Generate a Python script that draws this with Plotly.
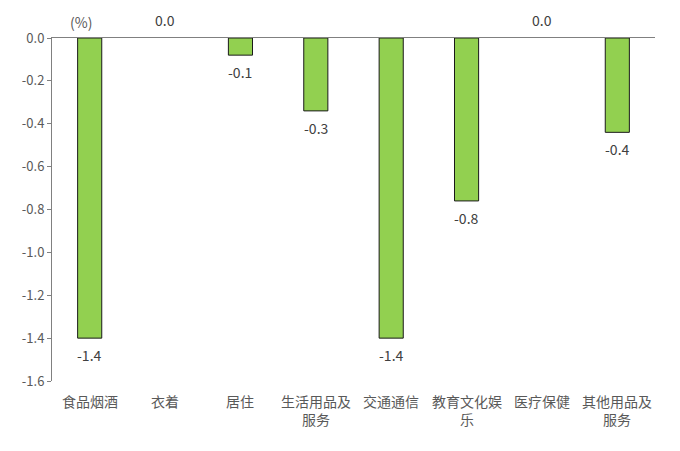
import plotly.graph_objects as go

# Данные
categories = ["食品烟酒", "衣着", "居住", "生活用品及服务", "交通通信", "教育文化娱乐", "医疗保健", "其他用品及服务"]
axis_labels = ["食品烟酒", "衣着", "居住", "生活用品及<br>服务", "交通通信", "教育文化娱<br>乐", "医疗保健", "其他用品及<br>服务"]
values = [-1.40, 0.0, -0.08, -0.34, -1.40, -0.76, 0.0, -0.44]
y_tickvals = [0.0, -0.2, -0.4, -0.6, -0.8, -1.0, -1.2, -1.4, -1.6]
y_ticktext = ["0.0", "-0.2", "-0.4", "-0.6", "-0.8", "-1.0", "-1.2", "-1.4", "-1.6"]

FONT = "Noto Sans CJK SC"
GRAY = "#595959"

fig = go.Figure()

fig.add_trace(go.Bar(
    x=categories,
    y=values,
    marker=dict(color="#92D050",
                line=dict(color="#1a1a1a", width=[0 if v == 0 else 1 for v in values])),
    hoverinfo="skip",
))

# подписи значений
for cat, v in zip(categories, values):
    label = f"{v:.1f}".replace("-0.0", "0.0")
    if v < 0:
        fig.add_annotation(x=cat, y=v, text=label, showarrow=False,
                           yanchor="top", yshift=-5,
                           font=dict(family=FONT, size=14, color="#404040"))
    else:
        fig.add_annotation(x=cat, y=0, text=label, showarrow=False,
                           yanchor="bottom", yshift=6,
                           font=dict(family=FONT, size=14, color="#404040"))

# подписи категорий снизу
for cat, lab in zip(categories, axis_labels):
    fig.add_annotation(x=cat, y=0, yref="paper", text=lab, showarrow=False,
                       yanchor="top", yshift=-8,
                       font=dict(family=FONT, size=14, color=GRAY))

fig.add_annotation(x=0.048, y=1, xref="paper", yref="paper", text="(%)",
                   showarrow=False, xanchor="center", yanchor="bottom", yshift=4,
                   font=dict(family=FONT, size=14, color=GRAY))

fig.update_layout(
    width=680,
    height=451,
    margin=dict(l=44, r=33, t=30, b=78),
    plot_bgcolor="white",
    paper_bgcolor="white",
    showlegend=False,
    bargap=0.68,
    font=dict(family=FONT, size=13, color=GRAY),
    xaxis=dict(
        side="top",
        showticklabels=False,
        showline=True,
        linecolor="#808080",
        linewidth=1,
        ticks="",
        showgrid=False,
    ),
    yaxis=dict(
        range=[-1.6, 0],
        tickvals=y_tickvals,
        ticktext=y_ticktext,
        showline=True,
        linecolor="#808080",
        linewidth=1,
        ticks="outside",
        ticklen=4,
        tickcolor="#808080",
        showgrid=False,
        zeroline=False,
        tickfont=dict(family=FONT, size=13, color=GRAY),
    ),
)

fig.write_html("out.html")
